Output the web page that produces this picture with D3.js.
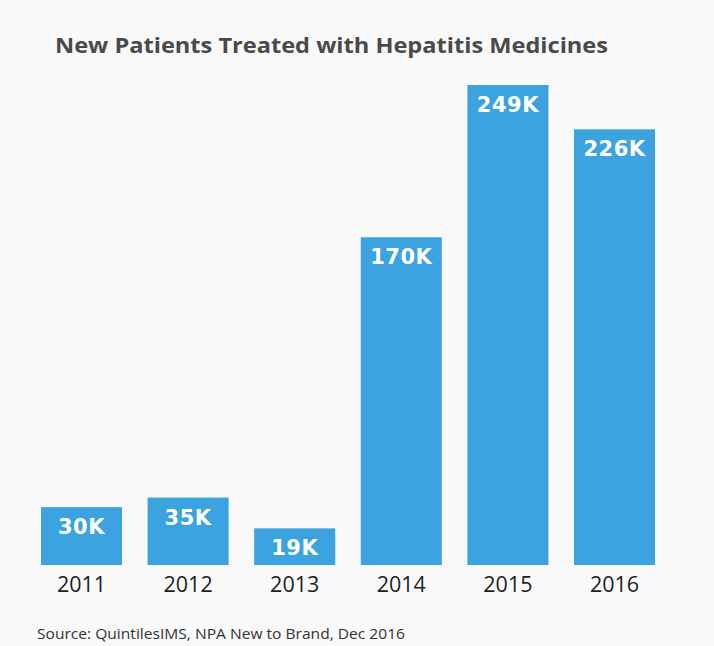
<!DOCTYPE html>
<html><head><meta charset="utf-8">
<script src="https://cdn.jsdelivr.net/npm/d3@7"></script>
<style>html,body{margin:0;padding:0;background:#f9f9f9;}</style>
</head><body>
<svg id="chart" width="714" height="646"></svg>
<script>
const years = ["2011","2012","2013","2014","2015","2016"];
const patients = [30, 35, 19, 170, 249, 226];
const valueLabels = ["30K","35K","19K","170K","249K","226K"];
const titleText = "New Patients Treated with Hepatitis Medicines";
const sourceText = "Source: QuintilesIMS, NPA New to Brand, Dec 2016";

const svg = d3.select("#chart");
svg.append("rect").attr("width",714).attr("height",646).attr("fill","#f9f9f9");

const x = d3.scaleBand().domain(years).range([41, 655]).paddingInner(0.24).paddingOuter(0);
const y = d3.scaleLinear().domain([0, 249]).range([565, 85]);

svg.append("text").attr("x",55).attr("y",53)
  .attr("font-family","'Open Sans', sans-serif").attr("font-weight",700)
  .attr("font-size",20.5).attr("fill","#4a4a4a")
  .attr("textLength",553).attr("lengthAdjust","spacingAndGlyphs")
  .text(titleText);

const g = svg.append("g");
g.selectAll("rect.bar").data(years).join("rect").attr("class","bar")
  .attr("x", d => x(d)).attr("width", x.bandwidth())
  .attr("y", (d,i) => y(patients[i])).attr("height", (d,i) => y(0) - y(patients[i]))
  .attr("fill","#3ba3e0");

g.selectAll("text.val").data(years).join("text").attr("class","val")
  .attr("x", d => x(d) + x.bandwidth()/2)
  .attr("y", (d,i) => y(patients[i]) + 27)
  .attr("text-anchor","middle")
  .attr("font-family","'DejaVu Sans', sans-serif").attr("font-weight",700)
  .attr("font-size",21).attr("letter-spacing",0.5).attr("fill","#ffffff")
  .text((d,i) => valueLabels[i]);

const axis = d3.axisBottom(x).tickSize(0).tickPadding(0);
const ax = svg.append("g").attr("transform","translate(0,565)").call(axis);
ax.select(".domain").remove();
ax.selectAll("text").attr("dy",null).attr("y",27)
  .attr("font-family","'Open Sans', sans-serif").attr("font-size",21.5)
  .attr("fill","#1e1e1e");

svg.append("text").attr("x",37).attr("y",639)
  .attr("font-family","'Open Sans', sans-serif").attr("font-size",14.5)
  .attr("fill","#333").attr("textLength",368).attr("lengthAdjust","spacingAndGlyphs")
  .text(sourceText);
</script>
</body></html>
